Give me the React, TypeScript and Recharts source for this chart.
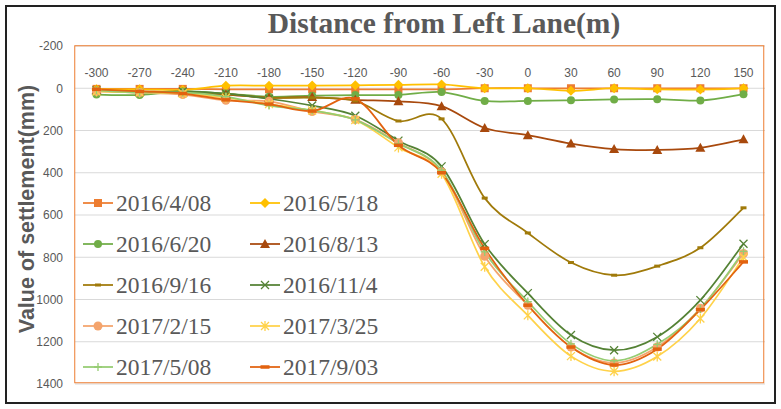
import React from "react";
import { LineChart, Line, XAxis, YAxis, CartesianGrid, Legend } from "recharts";

// distance from left lane (m)
const distances = [-300, -270, -240, -210, -180, -150, -120, -90, -60, -30, 0, 30, 60, 90, 120, 150];

// settlement (mm), one array per survey date
const apr08_2016 = [3, 3, 3, 5, 5, 5, 5, 5, 5, 0, 0, 0, 0, 0, 0, 0];
const may18_2016 = [5, 5, 8, -12, -12, -13, -14, -16, -18, 0, 0, 12, 0, 5, 6, 0];
const jun20_2016 = [30, 32, 15, 25, 40, 35, 32, 32, 18, 60, 60, 57, 53, 52, 58, 28];
const aug13_2016 = [10, 15, 20, 30, 45, 42, 55, 62, 85, 188, 222, 262, 288, 292, 282, 242];
const sep16_2016 = [10, 18, 20, 28, 45, 45, 60, 155, 145, 520, 685, 825, 885, 842, 755, 566];
const nov04_2016 = [10, 20, 15, 25, 50, 82, 130, 248, 370, 738, 970, 1168, 1240, 1177, 1003, 736];
const feb15_2017 = [15, 20, 30, 57, 62, 110, 148, 258, 395, 795, 1027, 1225, 1300, 1225, 1042, 782];
const mar25_2017 = [15, 20, 25, 45, 75, 105, 150, 280, 405, 845, 1075, 1268, 1340, 1270, 1090, 800];
const may08_2017 = [10, 20, 20, 40, 82, 105, 150, 262, 388, 775, 1010, 1210, 1290, 1212, 1045, 772];
const sep03_2017 = [5, 15, 25, 55, 75, 108, 50, 270, 400, 758, 1027, 1225, 1310, 1235, 1048, 822];

const seriesNames = [
  "2016/4/08", "2016/5/18", "2016/6/20", "2016/8/13", "2016/9/16",
  "2016/11/4", "2017/2/15", "2017/3/25", "2017/5/08", "2017/9/03",
];
const seriesValues = [
  apr08_2016, may18_2016, jun20_2016, aug13_2016, sep16_2016,
  nov04_2016, feb15_2017, mar25_2017, may08_2017, sep03_2017,
];
const seriesColors = [
  "#ED7D31", "#FFC000", "#70AD47", "#A8490D", "#A07A0A",
  "#548235", "#F4A46C", "#FFD24A", "#95CC72", "#E2620F",
];
const seriesMarkers = [
  "square", "diamond", "circle", "triangle", "smallDash",
  "cross", "bigCircle", "star", "plus", "dash",
];

const yTicks = [-200, 0, 200, 400, 600, 800, 1000, 1200, 1400];

const W = 781;
const H = 409;
const MARGIN = { top: 46, right: 16, bottom: 25, left: 5 };
const Y_AXIS_W = 70;

const chartData = distances.map((d, i) => {
  const row: any = { distance: d };
  seriesValues.forEach((vals, k) => {
    row["s" + k] = vals[i];
  });
  return row;
});

// Excel-like smoothed line (catmull-rom style bezier)
function excelCurve(context: any) {
  let pts: number[][] = [];
  return {
    areaStart() {},
    areaEnd() {},
    lineStart() {
      pts = [];
    },
    lineEnd() {
      const n = pts.length;
      if (n === 0) return;
      context.moveTo(pts[0][0], pts[0][1]);
      for (let i = 0; i < n - 1; i++) {
        const p0 = pts[Math.max(i - 1, 0)];
        const p1 = pts[i];
        const p2 = pts[i + 1];
        const p3 = pts[Math.min(i + 2, n - 1)];
        context.bezierCurveTo(
          p1[0] + (p2[0] - p0[0]) / 6, p1[1] + (p2[1] - p0[1]) / 6,
          p2[0] - (p3[0] - p1[0]) / 6, p2[1] - (p3[1] - p1[1]) / 6,
          p2[0], p2[1]
        );
      }
    },
    point(x: number, y: number) {
      pts.push([x, y]);
    },
  };
}

function Marker({ shape, cx, cy, color }: { shape: string; cx: number; cy: number; color: string }) {
  if (cx == null || cy == null) return null;
  switch (shape) {
    case "square":
      return <rect x={cx - 4} y={cy - 4} width={8} height={8} fill={color} />;
    case "diamond":
      return <path d={`M${cx},${cy - 5}L${cx + 5},${cy}L${cx},${cy + 5}L${cx - 5},${cy}Z`} fill={color} />;
    case "circle":
      return <circle cx={cx} cy={cy} r={4} fill={color} />;
    case "bigCircle":
      return <circle cx={cx} cy={cy} r={4.5} fill={color} />;
    case "triangle":
      return <path d={`M${cx},${cy - 5}L${cx + 5},${cy + 4}L${cx - 5},${cy + 4}Z`} fill={color} />;
    case "smallDash":
      return <rect x={cx - 3} y={cy - 1.5} width={6} height={3} fill={color} />;
    case "dash":
      return <rect x={cx - 4.5} y={cy - 1.75} width={9} height={3.5} fill={color} />;
    case "cross":
      return (
        <path d={`M${cx - 4},${cy - 4}L${cx + 4},${cy + 4}M${cx - 4},${cy + 4}L${cx + 4},${cy - 4}`} stroke={color} strokeWidth={1.3} />
      );
    case "star":
      return (
        <path
          d={`M${cx - 4},${cy - 4}L${cx + 4},${cy + 4}M${cx - 4},${cy + 4}L${cx + 4},${cy - 4}M${cx},${cy - 5}L${cx},${cy + 5}`}
          stroke={color}
          strokeWidth={1.3}
        />
      );
    case "plus":
      return <path d={`M${cx - 4},${cy}L${cx + 4},${cy}M${cx},${cy - 4}L${cx},${cy + 4}`} stroke={color} strokeWidth={1.3} />;
    default:
      return null;
  }
}

function LegendBox() {
  return (
    <div
      style={{
        display: "grid",
        gridTemplateColumns: "167px 167px",
        fontFamily: "'Liberation Serif', 'Times New Roman', serif",
        fontSize: 23.5,
        color: "#595959",
      }}
    >
      {seriesNames.map((name, i) => (
        <div key={name} style={{ display: "flex", alignItems: "center", height: 41 }}>
          <svg width={30} height={14} style={{ overflow: "visible" }}>
            <line x1={0} y1={7} x2={30} y2={7} stroke={seriesColors[i]} strokeWidth={1.75} />
            <Marker shape={seriesMarkers[i]} cx={15} cy={7} color={seriesColors[i]} />
          </svg>
          <span style={{ marginLeft: 3, whiteSpace: "nowrap" }}>{name}</span>
        </div>
      ))}
    </div>
  );
}

export default function App() {
  const plotLeft = MARGIN.left + Y_AXIS_W;
  const plotW = W - plotLeft - MARGIN.right;
  const plotH = H - MARGIN.top - MARGIN.bottom;
  return (
    <div style={{ position: "absolute", left: 0, top: 0, width: W, height: H, background: "#fff" }}>
      <LineChart width={W} height={H} data={chartData} margin={MARGIN}>
        <CartesianGrid vertical={false} stroke="#D9D9D9" />
        <XAxis
          dataKey="distance"
          orientation="top"
          mirror
          interval={0}
          axisLine={false}
          tickLine={false}
          tickSize={0}
          tickMargin={22}
          padding={{ left: 21.5, right: 21.5 }}
          tick={{ fill: "#595959", fontSize: 12, fontFamily: "'Liberation Sans', Arial, sans-serif" }}
        />
        <YAxis
          type="number"
          domain={[-200, 1400]}
          ticks={yTicks}
          reversed
          width={Y_AXIS_W}
          axisLine={false}
          tickLine={false}
          tickSize={0}
          tickMargin={12}
          tick={{ fill: "#595959", fontSize: 12, fontFamily: "'Liberation Sans', Arial, sans-serif" }}
        />
        {seriesNames.map((name, k) => (
          <Line
            key={name}
            name={name}
            dataKey={"s" + k}
            type={excelCurve as any}
            stroke={seriesColors[k]}
            strokeWidth={1.75}
            isAnimationActive={false}
            dot={(p: any) => (
              <Marker key={"m" + k + "-" + p.index} shape={seriesMarkers[k]} cx={p.cx} cy={p.cy} color={seriesColors[k]} />
            )}
            activeDot={false}
          />
        ))}
        <Legend
          layout="horizontal"
          verticalAlign="middle"
          align="center"
          content={() => <LegendBox />}
          wrapperStyle={{ left: 83, top: 182.5, width: 340, height: 205 }}
        />
        <text
          x={444}
          y={33}
          textAnchor="middle"
          fontFamily="'Liberation Serif', 'Times New Roman', serif"
          fontWeight="bold"
          fontSize={29.5}
          fill="#595959"
        >
          Distance from Left Lane(m)
        </text>
        <text
          transform="translate(34,209) rotate(-90)"
          textAnchor="middle"
          fontFamily="'Liberation Sans', Arial, sans-serif"
          fontWeight="bold"
          fontSize={21.5}
          fill="#595959"
        >
          Value of settlement(mm)
        </text>
      </LineChart>
      {/* plot area frame */}
      <div
        style={{
          position: "absolute",
          left: plotLeft,
          top: MARGIN.top,
          width: plotW,
          height: plotH,
          border: "1.5px solid #ED7D31",
          boxSizing: "border-box",
          transform: "translate(-0.75px,-0.75px)",
          pointerEvents: "none",
        }}
      />
      <div
        style={{
          position: "absolute",
          left: 5,
          top: 5,
          width: 771,
          height: 399,
          border: "2px solid #222",
          boxSizing: "border-box",
          pointerEvents: "none",
        }}
      />
    </div>
  );
}
